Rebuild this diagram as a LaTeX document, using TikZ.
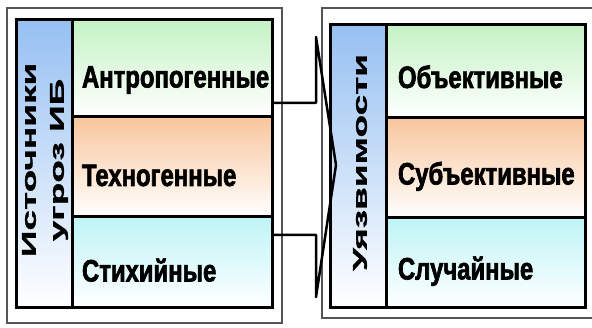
\documentclass[tikz,border=0pt]{standalone}
\usepackage{fontspec}
\setmainfont{Liberation Sans}
\newfontfamily\rowfont[FakeStretch=0.77, FakeBold=2]{Liberation Sans Bold}
\newfontfamily\stripfont[FakeStretch=1.85, FakeBold=1.5]{Liberation Sans Bold}
\usetikzlibrary{positioning}

\definecolor{stripblue}{RGB}{150,192,242}
\definecolor{rowgreen}{RGB}{196,242,196}
\definecolor{roworange}{RGB}{248,198,156}
\definecolor{rowcyan}{RGB}{190,244,246}
\definecolor{framegray}{RGB}{85,85,85}

\begin{document}
\begin{tikzpicture}[x=1pt, y=-1pt,
   row/.style={draw, line width=3pt, outer sep=0pt, inner ysep=0pt,
      anchor=north west, align=left, bottom color=white, text depth=0pt,
      font=\rowfont\fontsize{31}{32}\selectfont},
   lrow/.style={row, inner xsep=10pt, text width=180pt, text height=38pt},
   rrow/.style={row, inner xsep=12pt, text width=175pt, text height=33pt},
   strip/.style={draw, line width=3pt, outer sep=0pt, inner sep=0pt, anchor=north west,
      top color=stripblue, bottom color=white},
   striptext/.style={rotate=90, align=center, inner sep=0pt,
      font=\stripfont\fontsize{20}{28}\selectfont},
   outer/.style={draw=framegray, line width=2pt}]
   \useasboundingbox (0,0) rectangle (592,328);

   % Outer frames
   \draw[outer] (7,8) rectangle (282,323);
   \draw[outer] (600,8) -- (322,8) -- (322,318) -- (600,318);

   % Sources of threats
   \node[strip, minimum width=56pt, minimum height=288pt] (src) at (16,20) {};
   \node[striptext] (srctext) at ([xshift=1pt, yshift=4pt]src.center) {Источники\\угроз ИБ};
   \node[lrow, top color=rowgreen, minimum height=97pt] (antr) at (src.north east) {Антропогенные};
   \node[lrow, top color=roworange, minimum height=100pt, below=0pt of antr] (tekh) {Техногенные};
   \node[lrow, top color=rowcyan, minimum height=91pt, below=0pt of tekh] (stikh) {Стихийные};

   % Vulnerabilities
   \node[strip, minimum width=56pt, minimum height=283pt] (vuln) at (330,25) {};
   \node[striptext] (vulntext) at ([xshift=2pt, yshift=4pt]vuln.center) {Уязвимости};
   \node[rrow, top color=rowgreen, minimum height=93pt] (obj) at (vuln.north east) {Объективные};
   \node[rrow, top color=roworange, minimum height=100pt, below=0pt of obj] (subj) {Субъективные};
   \node[rrow, top color=rowcyan, minimum height=90pt, below=0pt of subj] (sluch) {Случайные};

   % Brace between the blocks
   \coordinate (brtop) at (316,37);
   \coordinate (brtip) at (336,165);
   \coordinate (brbot) at (316,297);
   \coordinate (j1) at (316,103);
   \coordinate (j2) at (316,235);
   \draw[line width=2.5pt, line join=round]
      (j1 -| antr.east) -- (j1) -- (brtop) -- (brtip) -- (brbot) -- (j2) -- (j2 -| stikh.east);
\end{tikzpicture}
\end{document}
